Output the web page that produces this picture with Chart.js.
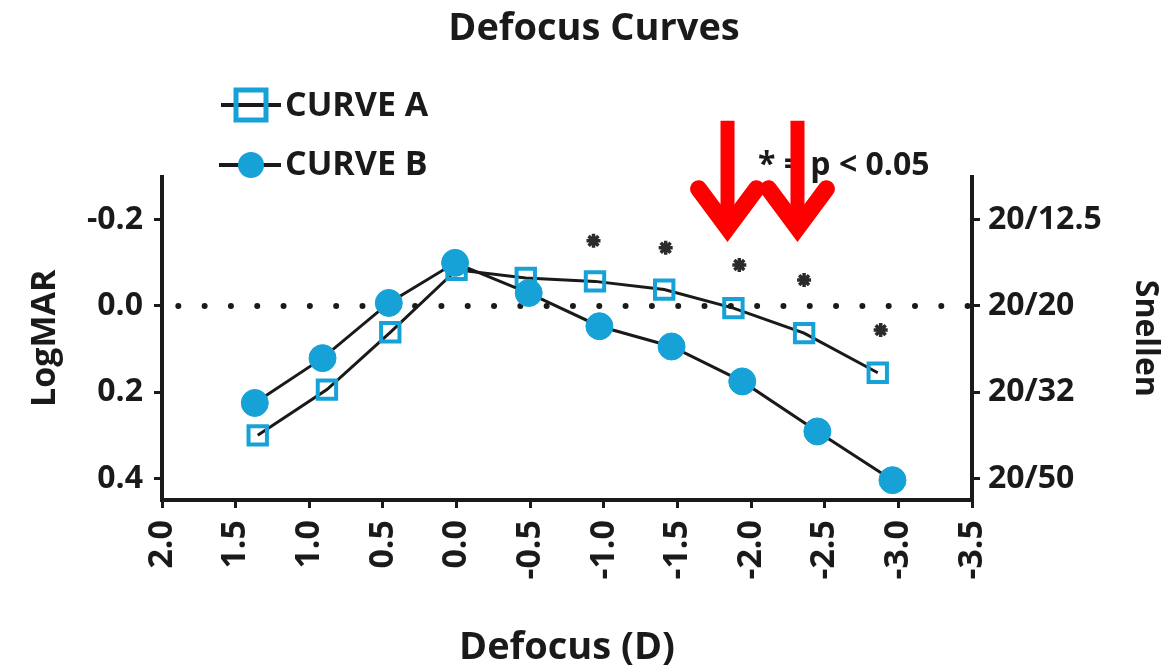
<!DOCTYPE html>
<html>
<head>
<meta charset="utf-8">
<script src="https://cdn.jsdelivr.net/npm/chart.js"></script>
<style>
  html, body { margin: 0; padding: 0; background: #fff; }
  #wrap { width: 1170px; height: 668px; }
</style>
</head>
<body>
<div id="wrap"><canvas id="myChart" width="1170" height="668"></canvas></div>
<script>
// values
const defocusA = [1.35, 0.88, 0.45, 0.0, -0.47, -0.94, -1.41, -1.88, -2.36, -2.86];
const logmarA = [0.30, 0.194, 0.061, -0.084, -0.065, -0.057, -0.038, 0.005, 0.063, 0.155];
const defocusB = [1.37, 0.91, 0.46, 0.01, -0.49, -0.97, -1.46, -1.94, -2.45, -2.96];
const logmarB = [0.225, 0.121, -0.007, -0.100, -0.030, 0.047, 0.094, 0.175, 0.291, 0.404];
const starDefocus = [-0.93, -1.42, -1.92, -2.36, -2.88];
const starLogmar = [-0.151, -0.135, -0.095, -0.060, 0.056];
const xTicks = [2.0, 1.5, 1.0, 0.5, 0.0, -0.5, -1.0, -1.5, -2.0, -2.5, -3.0, -3.5];
const yTicks = [-0.2, 0.0, 0.2, 0.4];
const snellenLabels = ['20/12.5', '20/20', '20/32', '20/50'];
const refDefocus = [2.0, -3.5];
const refLogmar = [0, 0];
const arrowDefocus = [-1.84, -2.315];
const arrowLogmar = -0.142;

const CYAN = '#16a2d7';
const INK = '#1a1a1a';
const FONT = "'Open Sans', sans-serif";

Chart.defaults.font.family = FONT;
Chart.defaults.color = INK;

const toPoints = (xs, ys) => xs.map((v, i) => ({ x: v, y: ys[i] }));

// legend, p-value note and the red arrows
const overlay = {
  id: 'overlay',
  afterDatasetsDraw(chart) {
    const { ctx, scales: { x, y } } = chart;
    ctx.save();

    // legend row A
    ctx.strokeStyle = INK;
    ctx.lineWidth = 4;
    ctx.beginPath(); ctx.moveTo(221, 105); ctx.lineTo(281, 105); ctx.stroke();
    ctx.strokeStyle = CYAN;
    ctx.lineWidth = 5;
    ctx.strokeRect(236, 90, 30, 30);
    // legend row B
    ctx.strokeStyle = INK;
    ctx.lineWidth = 4;
    ctx.beginPath(); ctx.moveTo(219, 165); ctx.lineTo(281, 165); ctx.stroke();
    ctx.fillStyle = CYAN;
    ctx.beginPath(); ctx.arc(251, 165, 13, 0, Math.PI * 2); ctx.fill();

    ctx.fillStyle = INK;
    ctx.textBaseline = 'middle';
    ctx.font = 'bold 34px ' + FONT;
    ctx.fillText('CURVE A', 285, 106);
    ctx.fillText('CURVE B', 285, 165);

    ctx.font = 'bold 32px ' + FONT;
    ctx.fillText('* = p < 0.05', 758, 166);

    // red arrows
    ctx.strokeStyle = '#ff0000';
    arrowDefocus.forEach(d => {
      const px = x.getPixelForValue(d);
      const py = y.getPixelForValue(arrowLogmar);
      ctx.lineWidth = 14;
      ctx.lineCap = 'butt';
      ctx.beginPath(); ctx.moveTo(px, py - 124); ctx.lineTo(px, py - 22); ctx.stroke();
      ctx.lineWidth = 17;
      ctx.lineCap = 'round';
      ctx.lineJoin = 'miter';
      ctx.beginPath();
      ctx.moveTo(px - 29, py - 56);
      ctx.lineTo(px, py - 17);
      ctx.lineTo(px + 29, py - 56);
      ctx.stroke();
    });
    ctx.restore();
  }
};

const axisGrid = { drawOnChartArea: false, drawTicks: true, tickLength: 8, lineWidth: 3, color: INK };
const axisBorder = { display: true, width: 4, color: INK };

new Chart(document.getElementById('myChart').getContext('2d'), {
  type: 'line',
  data: {
    datasets: [
      {
        label: 'CURVE B',
        data: toPoints(defocusB, logmarB),
        borderColor: INK,
        borderWidth: 3,
        pointStyle: 'circle',
        pointRadius: 13.5,
        pointBackgroundColor: CYAN,
        pointBorderColor: CYAN,
        pointBorderWidth: 1
      },
      {
        label: 'CURVE A',
        data: toPoints(defocusA, logmarA),
        borderColor: INK,
        borderWidth: 3,
        pointStyle: 'rect',
        pointRadius: 13,
        pointBackgroundColor: 'rgba(255,255,255,0)',
        pointBorderColor: CYAN,
        pointBorderWidth: 4
      },
      {
        label: 'p < 0.05',
        data: toPoints(starDefocus, starLogmar),
        showLine: false,
        pointStyle: 'star',
        pointRadius: 7,
        pointBorderWidth: 3.5,
        pointBorderColor: '#2b2b2b',
        pointBackgroundColor: '#2b2b2b'
      },
      {
        label: 'reference',
        data: toPoints(refDefocus, refLogmar),
        borderColor: INK,
        borderWidth: 6,
        borderDash: [0.01, 26.3],
        borderDashOffset: 10,
        borderCapStyle: 'round',
        pointRadius: 0
      }
    ]
  },
  options: {
    responsive: false,
    animation: false,
    layout: { padding: { left: 18, right: 0, top: 0, bottom: 0 } },
    plugins: {
      legend: { display: false },
      tooltip: { enabled: false },
      title: {
        display: true,
        text: 'Defocus Curves',
        color: INK,
        font: { size: 38, weight: 'bold', lineHeight: 1.2 },
        padding: { top: 6, bottom: 125 }
      }
    },
    scales: {
      x: {
        type: 'linear',
        min: -3.5,
        max: 2.0,
        reverse: true,
        afterBuildTicks: s => { s.ticks = xTicks.map(v => ({ value: v })); },
        afterFit: s => { s.height = 168; },
        ticks: {
          minRotation: 90,
          maxRotation: 90,
          padding: 12,
          font: { size: 34, weight: 'bold' },
          callback: v => v.toFixed(1)
        },
        grid: axisGrid,
        border: axisBorder,
        title: {
          display: true,
          text: 'Defocus (D)',
          font: { size: 38, weight: 'bold', lineHeight: 1 },
          padding: { top: 0, bottom: 1 }
        }
      },
      y: {
        type: 'linear',
        position: 'left',
        min: -0.3,
        max: 0.45,
        reverse: true,
        afterBuildTicks: s => { s.ticks = yTicks.map(v => ({ value: v })); },
        afterFit: s => { s.width = 144; },
        ticks: {
          padding: 11,
          font: { size: 32, weight: 'bold' },
          callback: v => v.toFixed(1)
        },
        grid: axisGrid,
        border: axisBorder,
        title: {
          display: true,
          text: 'LogMAR',
          font: { size: 34, weight: 'bold', lineHeight: 1 },
          padding: { top: 10, bottom: 0 }
        }
      },
      y2: {
        type: 'linear',
        position: 'right',
        min: -0.3,
        max: 0.45,
        reverse: true,
        afterBuildTicks: s => { s.ticks = yTicks.map(v => ({ value: v })); },
        afterFit: s => { s.width = 198; },
        ticks: {
          padding: 8,
          font: { size: 32, weight: 'bold' },
          callback: v => snellenLabels[yTicks.indexOf(v)]
        },
        grid: axisGrid,
        border: axisBorder,
        title: {
          display: true,
          text: 'Snellen',
          font: { size: 32, weight: 'bold', lineHeight: 1 },
          padding: { top: 9, bottom: 0 }
        }
      }
    }
  },
  plugins: [overlay]
});
</script>
</body>
</html>
